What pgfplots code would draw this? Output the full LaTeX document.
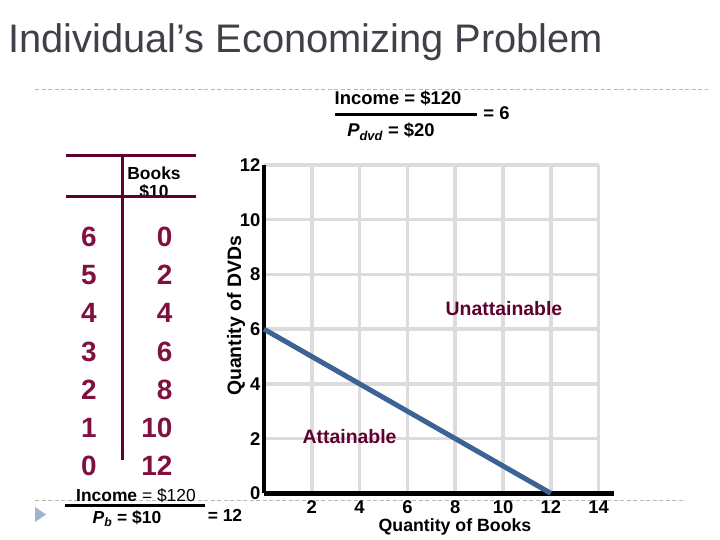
\documentclass[border=0pt]{standalone}
\usepackage{pgfplots}
\pgfplotsset{compat=1.18}
\usepackage{fontspec}
\setmainfont{Liberation Sans}
\definecolor{maroon}{RGB}{128,16,64}
\definecolor{darkmaroon}{RGB}{96,0,48}
\definecolor{lineblue}{RGB}{59,99,148}
\definecolor{titlegray}{RGB}{64,64,72}
\definecolor{bulletblue}{RGB}{160,180,205}
\definecolor{gridgray}{RGB}{220,220,220}
\begin{document}
\begin{tikzpicture}
\begin{scope}[x=1bp,y=-1bp]
\useasboundingbox (0,0) rectangle (720,540);
\fill[white] (0,0) rectangle (720,540);
% title
\node[anchor=base west, inner sep=0, text=titlegray, font=\fontsize{40}{44}\selectfont] at (8,52.7) {Individual’s Economizing Problem};
% separators
\draw[black!28, line width=1bp, dash pattern=on 4bp off 2.5bp] (35,90) -- (708,90);
\draw[black!28, line width=1bp, dash pattern=on 4bp off 2.5bp] (35,500) -- (685,500);
% bullet
\fill[bulletblue] (35,507) -- (46,514.5) -- (35,522) -- cycle;
% top fraction
\node[anchor=base, inner sep=0, font=\fontsize{18.5}{20}\bfseries\selectfont] at (398,105) {Income = \$120};
\draw[black, line width=3.3bp] (335,114.3) -- (476.7,114.3);
\node[anchor=base, inner sep=0, font=\fontsize{18.5}{20}\bfseries\selectfont] at (496.5,120) {= 6};
\node[anchor=base, inner sep=0, font=\fontsize{18.5}{20}\bfseries\selectfont] at (391,136.7) {{\itshape P}\textsubscript{\itshape dvd} = \$20};
% table
\begin{scope}
\clip (100,150) rectangle (200,195);
\node[anchor=base, inner sep=0, font=\fontsize{17.5}{19}\bfseries\selectfont] at (154,179.3) {Books};
\node[anchor=base, inner sep=0, font=\fontsize{17.5}{19}\bfseries\selectfont] at (154,198) {\$10};
\end{scope}
\draw[darkmaroon, line width=3.5bp] (66,155.7) -- (196,155.7);
\draw[darkmaroon, line width=3.5bp] (66,196.7) -- (196,196.7);
\draw[darkmaroon, line width=3.5bp] (122.7,155.7) -- (122.7,460);
\foreach \l/\r [count=\i from 0] in {6/0,5/2,4/4,3/6,2/8,1/10,0/12}{
  \node[anchor=base, inner sep=0, text=maroon, font=\fontsize{28}{30}\bfseries\selectfont] at (89,246.5+38.2*\i) {\l};
  \node[anchor=base east, inner sep=0, text=maroon, font=\fontsize{28}{30}\bfseries\selectfont] at (172.5,246.5+38.2*\i) {\r};
}
% bottom fraction
\node[anchor=base, inner sep=0, font=\fontsize{17.5}{19}\selectfont] at (136,501.7) {\textbf{Income} = \$120};
\draw[black, line width=3bp] (65,505) -- (205,505);
\node[anchor=base, inner sep=0, font=\fontsize{17.5}{19}\bfseries\selectfont] at (127,523.3) {{\itshape P}\textsubscript{\itshape b} = \$10};
\node[anchor=base, inner sep=0, font=\fontsize{17.5}{19}\bfseries\selectfont] at (225,521.7) {= 12};
% axis titles
\node[rotate=90, inner sep=0, font=\fontsize{19.5}{21}\bfseries\selectfont] at (236,316) {Quantity of DVDs};
\node[anchor=base, inner sep=0, font=\fontsize{17.8}{19}\bfseries\selectfont] at (455,531) {Quantity of Books};
\end{scope}
\begin{axis}[
  at={(264bp,-493.3bp)}, anchor=south west,
  scale only axis, width=334.6bp, height=328.3bp,
  xmin=0, xmax=14, ymin=0, ymax=12,
  axis x line=bottom, axis y line=left,
  axis line style={-, line width=4.5bp, black},
  x axis line style={shorten >=-15bp},
  xtick={2,4,...,14}, ytick={0,2,...,12},
  major tick length=0pt,
  grid=major, major grid style={line width=3.5bp, gridgray},
  /pgf/number format/assume math mode=true,
  tick label style={font=\fontsize{18.5}{20}\bfseries\selectfont},
  xticklabel style={yshift=-4bp},
  clip=false,
]
\addplot[lineblue, line width=5bp] coordinates {(0,6) (12,0)};
\node[text=darkmaroon, font=\fontsize{19.5}{22}\bfseries\selectfont] at (axis cs:10.04,6.77) {Unattainable};
\node[text=darkmaroon, font=\fontsize{19.5}{22}\bfseries\selectfont] at (axis cs:3.58,2.09) {Attainable};
\end{axis}
\end{tikzpicture}
\end{document}
